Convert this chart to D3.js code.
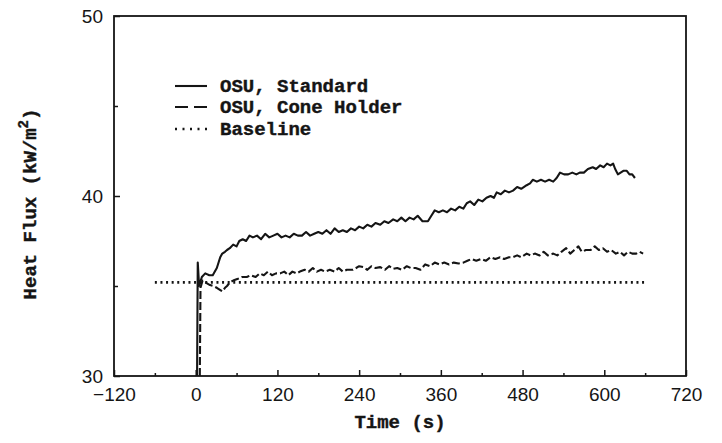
<!DOCTYPE html>
<html>
<head>
<meta charset="utf-8">
<script src="https://cdn.jsdelivr.net/npm/d3@7"></script>
<style>
  body { margin: 0; background: #fff; }
  svg { display: block; }
</style>
</head>
<body>
<div id="chart"></div>
<script>
const MARGIN = { top: 16, right: 36, bottom: 67, left: 114 };
const W = 722, H = 443;

const xTicks = [-120, 0, 120, 240, 360, 480, 600, 720];
const xMinor = [-60, 60, 180, 300, 420, 540, 660];
const yTicks = [30, 40, 50];
const yMinor = [35, 45];

// time (s)
const standardT = [2, 3, 5, 9, 14, 20, 25, 31, 36, 39, 43, 46, 50, 55, 60, 64, 69, 74, 79, 84, 90, 96, 102, 108, 114, 120, 126, 132, 138, 144, 150, 156, 162, 168, 174, 180, 186, 192, 198, 204, 210, 216, 222, 228, 234, 240, 246, 252, 258, 264, 271, 277, 283, 290, 296, 302, 308, 314, 320, 326, 333, 341, 346, 351, 357, 363, 369, 375, 381, 387, 393, 398, 403, 409, 415, 421, 427, 433, 438, 442, 448, 454, 460, 466, 472, 478, 486, 491, 495, 501, 507, 513, 519, 525, 530, 535, 541, 547, 553, 559, 564, 570, 576, 583, 588, 594, 599, 604, 609, 613, 616, 620, 624, 628, 633, 637, 641, 645];
// heat flux (kW/m2)
const standardV = [30.0, 36.3, 35.0, 35.5, 35.7, 35.6, 35.6, 36.0, 36.6, 36.8, 36.9, 37.0, 37.1, 37.3, 37.2, 37.5, 37.6, 37.5, 37.8, 37.7, 37.8, 37.6, 37.9, 37.7, 37.8, 37.9, 37.7, 37.8, 37.7, 37.9, 37.8, 37.8, 38.0, 37.8, 37.9, 38.0, 37.9, 38.1, 37.9, 38.2, 38.0, 38.1, 38.0, 38.2, 38.1, 38.3, 38.2, 38.4, 38.3, 38.5, 38.4, 38.6, 38.5, 38.7, 38.6, 38.8, 38.6, 38.8, 38.7, 38.9, 38.6, 38.6, 38.9, 39.2, 39.1, 39.2, 39.1, 39.3, 39.2, 39.4, 39.3, 39.6, 39.7, 39.5, 39.8, 39.7, 39.9, 40.0, 39.9, 40.2, 40.1, 40.3, 40.2, 40.3, 40.5, 40.4, 40.6, 40.7, 40.9, 40.8, 40.9, 40.8, 40.9, 40.8, 41.0, 41.3, 41.2, 41.2, 41.3, 41.2, 41.3, 41.3, 41.5, 41.6, 41.5, 41.7, 41.6, 41.8, 41.7, 41.8, 41.5, 41.2, 41.3, 41.4, 41.4, 41.2, 41.2, 41.0];

const coneT = [6, 7, 10, 14, 21, 26, 31, 35, 39, 43, 46, 50, 55, 62, 68, 75, 81, 88, 94, 100, 106, 112, 118, 124, 130, 136, 142, 148, 153, 160, 166, 172, 178, 184, 190, 197, 204, 210, 216, 222, 231, 240, 246, 252, 258, 264, 271, 278, 284, 290, 296, 303, 310, 316, 323, 330, 337, 344, 351, 358, 365, 372, 379, 386, 393, 399, 405, 412, 419, 426, 433, 440, 447, 453, 460, 466, 472, 478, 486, 492, 498, 505, 511, 517, 525, 531, 537, 544, 550, 556, 562, 567, 573, 580, 586, 592, 598, 604, 610, 617, 623, 629, 635, 641, 647, 652, 657];
const coneV = [30.0, 34.9, 35.3, 35.2, 35.05, 35.0, 34.9, 34.8, 34.7, 34.9, 35.0, 35.2, 35.3, 35.4, 35.5, 35.5, 35.6, 35.5, 35.7, 35.6, 35.8, 35.6, 35.7, 35.7, 35.8, 35.6, 35.8, 35.7, 35.8, 35.9, 35.8, 36.0, 35.8, 35.9, 35.8, 35.9, 35.8, 36.0, 35.8, 35.9, 35.9, 36.1, 36.05, 35.9, 36.1, 36.0, 36.05, 35.9, 36.1, 35.95, 36.0, 35.9, 36.1, 36.0, 36.0, 35.9, 36.2, 36.1, 36.3, 36.2, 36.3, 36.2, 36.3, 36.25, 36.3, 36.4, 36.5, 36.4, 36.5, 36.4, 36.6, 36.5, 36.6, 36.5, 36.6, 36.6, 36.7, 36.6, 36.8, 36.7, 36.8, 36.7, 36.9, 36.7, 36.8, 36.7, 36.9, 37.1, 36.8, 37.0, 37.2, 36.9, 37.0, 37.0, 37.2, 37.0, 37.1, 36.9, 37.0, 36.8, 36.9, 36.7, 36.9, 36.8, 36.8, 36.9, 36.8];

const baselineT = [-60, 660];
const baselineV = [35.2, 35.2];

const seriesNames = ["OSU, Standard", "OSU, Cone Holder", "Baseline"];
const dashes = [null, "8,3", "2,3.6"];
const legendDashes = [null, "13,6", "2,5.5"];

const svg = d3.select("#chart").append("svg").attr("width", W).attr("height", H);

const x = d3.scaleLinear().domain([-120, 720]).range([MARGIN.left, W - MARGIN.right]);
const y = d3.scaleLinear().domain([30, 50]).range([H - MARGIN.bottom, MARGIN.top]);

const ink = "#151515";
const monoFont = "'Liberation Mono', 'DejaVu Sans Mono', monospace";
const numFont = "'Liberation Sans', Arial, sans-serif";

// frame
svg.append("rect")
    .attr("x", x(-120)).attr("y", y(50))
    .attr("width", x(720) - x(-120)).attr("height", y(30) - y(50))
    .attr("fill", "none").attr("stroke", ink).attr("stroke-width", 1.8);

// bottom axis, ticks pointing inward
const xAxisG = svg.append("g").attr("transform", `translate(0,${y(30)})`);
xAxisG.call(d3.axisBottom(x).tickValues(xTicks).tickSize(-6).tickPadding(12).tickFormat(d => d < 0 ? "\u2212" + Math.abs(d) : d));
xAxisG.append("g").call(d3.axisBottom(x).tickValues(xMinor).tickSize(-3).tickFormat(""));
xAxisG.selectAll(".domain").remove();

const yAxisG = svg.append("g").attr("transform", `translate(${x(-120)},0)`);
yAxisG.call(d3.axisLeft(y).tickValues(yTicks).tickSize(-6).tickPadding(11));
yAxisG.append("g").call(d3.axisLeft(y).tickValues(yMinor).tickSize(-4).tickFormat(""));
yAxisG.selectAll(".domain").remove();

svg.selectAll(".tick line").attr("stroke", ink).attr("stroke-width", 1.5);
svg.selectAll(".tick text")
    .attr("fill", ink)
    .style("font-family", numFont)
    .style("font-size", "19px");
yAxisG.selectAll(".tick text").attr("dy", "0.36em");

// data lines
const line = d3.line().x(d => x(d[0])).y(d => y(d[1]));
const seriesData = [
    d3.zip(standardT, standardV),
    d3.zip(coneT, coneV),
    d3.zip(baselineT, baselineV),
];

svg.selectAll("path.series")
    .data(seriesData)
    .join("path")
    .attr("class", "series")
    .attr("d", line)
    .attr("fill", "none")
    .attr("stroke", ink)
    .attr("stroke-width", (d, i) => i === 2 ? 2.6 : 2.1)
    .attr("stroke-linejoin", "round")
    .attr("stroke-dasharray", (d, i) => dashes[i]);

// legend
const legend = svg.append("g");
const rowsY = [86, 107, 129];
seriesNames.forEach((name, i) => {
    legend.append("line")
        .attr("x1", 175).attr("x2", 207)
        .attr("y1", rowsY[i]).attr("y2", rowsY[i])
        .attr("stroke", ink)
        .attr("stroke-width", i === 2 ? 2.6 : 2.1)
        .attr("stroke-dasharray", legendDashes[i]);
    legend.append("text")
        .attr("x", 220).attr("y", rowsY[i]).attr("dy", "0.33em")
        .attr("fill", ink)
        .attr("stroke", ink).attr("stroke-width", 0.4)
        .style("font-family", monoFont).style("font-weight", "bold").style("font-size", "19px")
        .text(name);
});

// axis titles
svg.append("text")
    .attr("x", (x(-120) + x(720)) / 2).attr("y", 428)
    .attr("text-anchor", "middle")
    .attr("fill", ink).attr("stroke", ink).attr("stroke-width", 0.4)
    .style("font-family", monoFont).style("font-weight", "bold").style("font-size", "19px")
    .text("Time (s)");

const yTitle = svg.append("text")
    .attr("transform", `translate(36,${(y(30) + y(50)) / 2 + 8}) rotate(-90)`)
    .attr("text-anchor", "middle")
    .attr("fill", ink).attr("stroke", ink).attr("stroke-width", 0.4)
    .style("font-family", monoFont).style("font-weight", "bold").style("font-size", "19px");
yTitle.append("tspan").text("Heat Flux (kW/m");
yTitle.append("tspan").attr("baseline-shift", "super").style("font-size", "14px").text("2");
yTitle.append("tspan").text(")");
</script>
</body>
</html>
